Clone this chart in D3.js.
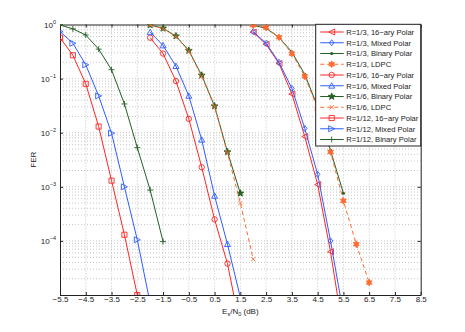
<!DOCTYPE html>
<html>
<head>
<meta charset="utf-8">
<script src="https://cdn.jsdelivr.net/npm/d3@7"></script>
<style>
  html, body { margin: 0; padding: 0; background: #fff; }
  svg { display: block; font-family: "Liberation Sans", Arial, sans-serif; }
</style>
</head>
<body>
<svg id="chart" width="465" height="332"></svg>
<script>
// FER vs Es/N0 — polar / LDPC comparison, log-scale y

// ─── Data ───────────────────────────────────────────────────────────────
const xTicks = [-5.5, -4.5, -3.5, -2.5, -1.5, -0.5, 0.5, 1.5, 2.5, 3.5, 4.5, 5.5, 6.5, 7.5, 8.5];
const yTicks = [1e-5, 1e-4, 1e-3, 1e-2, 1e-1, 1];

const snr12 = [-5.5, -5, -4.5, -4, -3.5, -3, -2.5, -2, -1.5];
const r12_16ary  = [0.57, 0.27, 0.08, 0.013, 0.0013, 1.3e-4, 1.0e-5];
const r12_mixed  = [0.74, 0.45, 0.18, 0.048, 0.0098, 1.0e-3, 1.05e-4, 7e-6];
const r12_binary = [0.98, 0.83, 0.64, 0.35, 0.146, 0.034, 0.0053, 8.7e-4, 9.7e-5];

const snr6 = [-2, -1.5, -1, -0.5, 0, 0.5, 1, 1.5, 2];
const r6_16ary  = [0.57, 0.29, 0.09, 0.018, 0.0023, 2.5e-4, 3.8e-5, 2.5e-6];
const r6_mixed  = [0.72, 0.41, 0.17, 0.048, 0.0074, 6.8e-4, 8.7e-5, 9e-6];
const r6_binary = [0.98, 0.85, 0.61, 0.33, 0.115, 0.031, 0.0044, 7.6e-4];
const r6_ldpc   = [0.97, 0.84, 0.60, 0.32, 0.11, 0.030, 0.0042, 5.0e-4, 4.6e-5];

const snr3 = [2, 2.5, 3, 3.5, 4, 4.5, 5, 5.5, 6, 6.5];
const r3_16ary  = [0.72, 0.43, 0.19, 0.052, 0.0085, 0.0011, 6.3e-5, 2e-6];
const r3_mixed  = [0.74, 0.45, 0.20, 0.066, 0.012, 0.0017, 1.0e-4, 4.5e-6];
const r3_binary = [0.97, 0.85, 0.58, 0.31, 0.12, 0.030, 0.0047, 7.6e-4];
const r3_ldpc   = [0.97, 0.88, 0.58, 0.29, 0.11, 0.028, 0.0044, 5.5e-4, 8.7e-5, 1.7e-5];

const RED = '#ff2424', BLUE = '#2f5cff', GREEN = '#246024', ORANGE = '#ff6a30';

// draw order follows the legend
const series = [
  { name: 'R=1/3, 16\u2212ary Polar', x: snr3,  y: r3_16ary,   color: RED,    marker: 'triLeft' },
  { name: 'R=1/3, Mixed Polar',       x: snr3,  y: r3_mixed,   color: BLUE,   marker: 'diamond' },
  { name: 'R=1/3, Binary Polar',      x: snr3,  y: r3_binary,  color: GREEN,  marker: 'dot' },
  { name: 'R=1/3, LDPC',              x: snr3,  y: r3_ldpc,    color: ORANGE, marker: 'hexagram', dash: true },
  { name: 'R=1/6, 16\u2212ary Polar', x: snr6,  y: r6_16ary,   color: RED,    marker: 'circle' },
  { name: 'R=1/6, Mixed  Polar',      x: snr6,  y: r6_mixed,   color: BLUE,   marker: 'triUp' },
  { name: 'R=1/6, Binary Polar',      x: snr6,  y: r6_binary,  color: GREEN,  marker: 'pentagram' },
  { name: 'R=1/6, LDPC',              x: snr6,  y: r6_ldpc,    color: ORANGE, marker: 'cross', dash: true },
  { name: 'R=1/12, 16\u2212ary Polar', x: snr12, y: r12_16ary,  color: RED,    marker: 'square' },
  { name: 'R=1/12, Mixed Polar',      x: snr12, y: r12_mixed,  color: BLUE,   marker: 'triRight' },
  { name: 'R=1/12, Binary Polar',     x: snr12, y: r12_binary, color: GREEN,  marker: 'plus' }
];

// ─── Layout ─────────────────────────────────────────────────────────────
const M = { left: 60, right: 420.7, top: 24.5, bottom: 295 };
const svg = d3.select('#chart');

const x = d3.scaleLinear().domain([-5.5, 8.5]).range([M.left, M.right]);
const y = d3.scaleLog().domain([1e-5, 1]).range([M.bottom, M.top]);

svg.append('defs').append('clipPath').attr('id', 'plot-clip')
  .append('rect')
  .attr('x', M.left).attr('y', M.top)
  .attr('width', M.right - M.left).attr('height', M.bottom - M.top);

// ─── Grid ───────────────────────────────────────────────────────────────
const grid = svg.append('g').attr('class', 'grid')
  .attr('stroke', '#b8b8b8').attr('stroke-width', 0.8).attr('stroke-dasharray', '1,2');

grid.selectAll('line.vx').data(xTicks.slice(1, -1)).join('line')
  .attr('x1', d => x(d)).attr('x2', d => x(d))
  .attr('y1', M.top).attr('y2', M.bottom);

const minorY = [];
for (let e = -5; e < 0; e++) for (let k = 1; k < 10; k++) minorY.push(k * Math.pow(10, e));
grid.selectAll('line.hy').data(minorY.filter(v => v > 1e-5)).join('line')
  .attr('x1', M.left).attr('x2', M.right)
  .attr('y1', d => y(d)).attr('y2', d => y(d));

// ─── Axes ───────────────────────────────────────────────────────────────
const tickFont = 8;
const axB = svg.append('g').attr('transform', `translate(0,${M.bottom})`)
  .call(d3.axisBottom(x).tickValues(xTicks).tickSizeInner(-3).tickSizeOuter(0)
    .tickFormat(d => d3.format('.1f')(d).replace('-', '\u2212')));
const axT = svg.append('g').attr('transform', `translate(0,${M.top})`)
  .call(d3.axisTop(x).tickValues(xTicks).tickSizeInner(-3).tickSizeOuter(0).tickFormat(''));
const axL = svg.append('g').attr('transform', `translate(${M.left},0)`)
  .call(d3.axisLeft(y).tickValues(yTicks).tickSizeInner(-3).tickSizeOuter(0).tickFormat(''));
const axR = svg.append('g').attr('transform', `translate(${M.right},0)`)
  .call(d3.axisRight(y).tickValues(yTicks).tickSizeInner(-3).tickSizeOuter(0).tickFormat(''));

[axB, axT, axL, axR].forEach(a => {
  a.select('.domain').attr('stroke', '#222').attr('stroke-width', 1);
  a.selectAll('.tick line').attr('stroke', '#222');
});
axB.selectAll('.tick text')
  .attr('font-size', tickFont).attr('fill', '#222').attr('dy', '0.5em')
  .attr('font-family', '"Liberation Sans", Arial, sans-serif');

// y tick labels 10^k
const yLab = svg.append('g').attr('fill', '#222');
yTicks.filter(v => v > 1e-5).forEach(v => {
  const t = yLab.append('text')
    .attr('x', M.left - 4).attr('y', y(v) + 3)
    .attr('text-anchor', 'end').attr('font-size', tickFont);
  t.append('tspan').text('10');
  t.append('tspan').attr('dy', -4).attr('font-size', 5.5)
    .text(String(Math.round(Math.log10(v))).replace('-', '\u2212'));
});

// axis titles
svg.append('text')
  .attr('transform', `translate(36,${(M.top + M.bottom) / 2}) rotate(-90)`)
  .attr('text-anchor', 'middle').attr('font-size', 8).attr('fill', '#222')
  .text('FER');

const xt = svg.append('text')
  .attr('x', (M.left + M.right) / 2).attr('y', 314)
  .attr('text-anchor', 'middle').attr('font-size', 8).attr('fill', '#222');
xt.append('tspan').text('E');
xt.append('tspan').attr('font-size', 5.5).attr('dy', 2).text('s');
xt.append('tspan').attr('dy', -2).text('/N');
xt.append('tspan').attr('font-size', 5.5).attr('dy', 2).text('0');
xt.append('tspan').attr('dy', -2).text(' (dB)');

// ─── Markers ────────────────────────────────────────────────────────────
function starPath(n, ro, ri) {
  const pts = [];
  for (let i = 0; i < 2 * n; i++) {
    const a = -Math.PI / 2 + i * Math.PI / n;
    const r = i % 2 ? ri : ro;
    pts.push([Math.cos(a) * r, Math.sin(a) * r]);
  }
  return 'M' + pts.map(p => p.join(',')).join('L') + 'Z';
}

function drawMarker(g, type, color) {
  const s = 3;
  const st = { stroke: color, 'stroke-width': 0.9, fill: 'none' };
  const p = (d, fill) => g.append('path').attr('d', d)
    .attr('stroke', st.stroke).attr('stroke-width', st['stroke-width'])
    .attr('fill', fill || 'none');
  switch (type) {
    case 'triLeft':  p(`M${-s},0L${s},${-s}L${s},${s}Z`); break;
    case 'triRight': p(`M${s},0L${-s},${-s}L${-s},${s}Z`); break;
    case 'triUp':    p(`M0,${-s}L${s},${s * 0.8}L${-s},${s * 0.8}Z`); break;
    case 'diamond':  p(`M0,${-s}L${s * 0.75},0L0,${s}L${-s * 0.75},0Z`); break;
    case 'circle':   g.append('circle').attr('r', s * 0.9).attr('stroke', color).attr('stroke-width', 0.9).attr('fill', 'none'); break;
    case 'square':   p(`M${-s * 0.85},${-s * 0.85}h${s * 1.7}v${s * 1.7}h${-s * 1.7}Z`); break;
    case 'dot':      g.append('circle').attr('r', 1.6).attr('fill', color); break;
    case 'plus':     p(`M${-s},0H${s}M0,${-s}V${s}`); break;
    case 'cross':    p(`M${-s * 0.7},${-s * 0.7}L${s * 0.7},${s * 0.7}M${-s * 0.7},${s * 0.7}L${s * 0.7},${-s * 0.7}`); break;
    case 'pentagram': p(starPath(5, s * 1.2, s * 0.5), color); break;
    case 'hexagram':  p(starPath(6, s * 1.1, s * 0.6), color); break;
  }
}

// ─── Curves ─────────────────────────────────────────────────────────────
const plot = svg.append('g').attr('clip-path', 'url(#plot-clip)');
const line = d3.line().x(d => x(d[0])).y(d => y(d[1]));

series.forEach(s => {
  const pts = s.y.map((v, i) => [s.x[i], v]);
  plot.append('path').datum(pts)
    .attr('d', line)
    .attr('fill', 'none')
    .attr('stroke', s.color)
    .attr('stroke-width', 1)
    .attr('stroke-dasharray', s.dash ? '4,3' : null);
  pts.filter(d => d[1] >= 1e-5).forEach(d => {
    const g = plot.append('g').attr('transform', `translate(${x(d[0])},${y(d[1])})`);
    drawMarker(g, s.marker, s.color);
  });
});

// ─── Legend ─────────────────────────────────────────────────────────────
const LG = { x0: 315.7, y0: 24.3, w: 105, h: 121.7, row: 10.75, first: 32 };
const legend = svg.append('g');
legend.append('rect')
  .attr('x', LG.x0).attr('y', LG.y0).attr('width', LG.w).attr('height', LG.h)
  .attr('fill', '#fff').attr('stroke', '#222').attr('stroke-width', 1);

series.forEach((s, i) => {
  const yy = LG.first + i * LG.row;
  const row = legend.append('g');
  row.append('line')
    .attr('x1', LG.x0 + 4.5).attr('x2', LG.x0 + 28)
    .attr('y1', yy).attr('y2', yy)
    .attr('stroke', s.color).attr('stroke-width', 1)
    .attr('stroke-dasharray', s.dash ? '4,3' : null);
  const g = row.append('g').attr('transform', `translate(${LG.x0 + 16},${yy})`);
  drawMarker(g, s.marker, s.color);
  row.append('text')
    .attr('x', LG.x0 + 30.5).attr('y', yy + 2.8)
    .attr('font-size', 7.6).attr('fill', '#222')
    .text(s.name);
});
</script>
</body>
</html>
